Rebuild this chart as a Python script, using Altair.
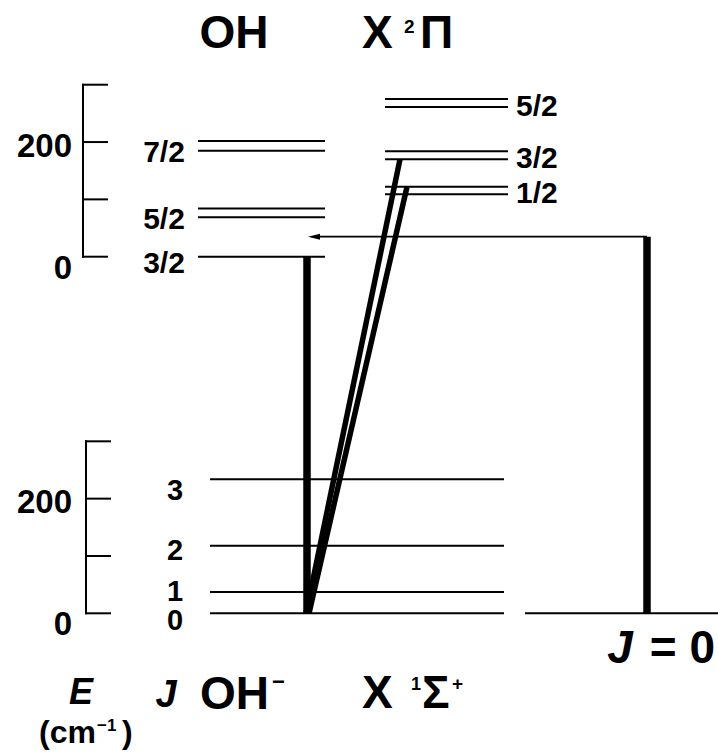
import altair as alt
import pandas as pd

# ---------------- data (energies in cm^-1) ----------------
# OH- X 1Σ+ rotational levels
anion_J = ["0", "1", "2", "3"]
anion_E = [0, 37, 118, 234]

# OH X 2Π3/2 levels, Λ-doublet components (relative to J = 3/2)
pi32_J = ["3/2", "5/2", "5/2", "7/2", "7/2"]
pi32_E = [0, 69, 84, 185, 202]

# OH X 2Π1/2 levels, Λ-doublet components
pi12_J = ["1/2", "1/2", "3/2", "3/2", "5/2", "5/2"]
pi12_E = [109, 122, 170, 184, 261, 275]

# photodetachment transitions from OH- J = 0 (upper-state energies)
trans_upper = [0, 170, 122]          # -> 2Π3/2 J=3/2, 2Π1/2 J=3/2, 2Π1/2 J=1/2
photon_E = 35                        # excess photon energy marker

energy_ticks = [0, 100, 200, 300]
energy_labels = [0, 200]

# ---------------- layout ----------------
W, H = 718, 753
PX = 0.5733                  # pixels per cm^-1
Y0 = 613.3                   # pixel row of anion E = 0
BREAK = 622                  # drawn offset of the neutral block (axis break)
FONT = "Liberation Sans"

X = alt.Scale(domain=[0, W], nice=False, zero=False)
Y = alt.Scale(domain=[-(H - Y0) / PX, Y0 / PX], nice=False, zero=False)


def xq(f):
    return alt.X(f"{f}:Q", scale=X, axis=None)


def yq(f):
    return alt.Y(f"{f}:Q", scale=Y, axis=None)


layers = []

# ---- energy level lines ----
lv = []
for e in anion_E:
    lv.append(dict(x=210, x2=504, y=e))
lv.append(dict(x=525, x2=718, y=anion_E[0]))
for e in pi32_E:
    lv.append(dict(x=198, x2=325, y=e + BREAK))
for e in pi12_E:
    lv.append(dict(x=385, x2=508, y=e + BREAK))
layers.append(
    alt.Chart(pd.DataFrame(lv)).mark_rule(color="black", strokeWidth=2)
    .encode(x=xq("x"), x2="x2:Q", y=yq("y"))
)

# ---- energy brackets (axes) ----
br = []
for bx, off in [(83, BREAK), (86, 0)]:
    br.append(dict(x=bx, x2=bx, y=energy_ticks[0] + off, y2=energy_ticks[-1] + off))
    for t in energy_ticks:
        br.append(dict(x=bx, x2=bx + 24, y=t + off, y2=t + off))
layers.append(
    alt.Chart(pd.DataFrame(br)).mark_rule(color="black", strokeWidth=2, strokeCap="square")
    .encode(x=xq("x"), x2="x2:Q", y=yq("y"), y2="y2:Q")
)

# ---- transitions ----
# vertical to 2Π3/2 J=3/2
layers.append(
    alt.Chart(pd.DataFrame([dict(x=307, y=anion_E[0], y2=trans_upper[0] + BREAK)]))
    .mark_rule(color="black", strokeWidth=7.5)
    .encode(x=xq("x"), y=yq("y"), y2="y2:Q")
)
# slanted to the 2Π1/2 levels
layers.append(
    alt.Chart(pd.DataFrame([
        dict(x=306, y=anion_E[0], x2=400, y2=trans_upper[1] + BREAK),
        dict(x=309, y=anion_E[0], x2=407, y2=trans_upper[2] + BREAK),
    ]))
    .mark_rule(color="black", strokeWidth=5.5)
    .encode(x=xq("x"), y=yq("y"), x2="x2:Q", y2="y2:Q")
)
# photon bar on the right and its arrow
layers.append(
    alt.Chart(pd.DataFrame([dict(x=647, y=anion_E[0], y2=photon_E + BREAK)]))
    .mark_rule(color="black", strokeWidth=7.5)
    .encode(x=xq("x"), y=yq("y"), y2="y2:Q")
)
layers.append(
    alt.Chart(pd.DataFrame([dict(x=647, x2=316, y=photon_E + BREAK)]))
    .mark_rule(color="black", strokeWidth=1.8)
    .encode(x=xq("x"), x2="x2:Q", y=yq("y"))
)
layers.append(
    alt.Chart(pd.DataFrame([dict(x=314, y=photon_E + BREAK)]))
    .mark_point(shape="M-1,0L1,-0.5L1,0.5Z", size=144, filled=True,
                color="black", opacity=1, strokeWidth=0)
    .encode(x=xq("x"), y=yq("y"))
)


# ---- J labels ----
def level_text(df, dy, align, size=30):
    return (
        alt.Chart(df).mark_text(font=FONT, fontWeight="bold", fontSize=size,
                                align=align, baseline="alphabetic", dy=dy, color="black")
        .encode(x=xq("x"), y=yq("y"), text="t:N")
    )


p32 = pd.DataFrame(dict(t=pi32_J, y=pi32_E)).groupby("t", sort=False).mean().reset_index()
p32["y"] += BREAK
p32["x"] = 164
layers.append(level_text(p32, 16.5, "center"))

p12 = pd.DataFrame(dict(t=pi12_J, y=pi12_E)).groupby("t", sort=False).mean().reset_index()
p12["y"] += BREAK
p12["x"] = 516
layers.append(level_text(p12, 13, "left"))

anion_nudge = [17, 9, 14, 21]
for j, e, d in zip(anion_J, anion_E, anion_nudge):
    layers.append(level_text(pd.DataFrame([dict(t=j, y=e, x=175)]), d, "center", size=29))

# ---- energy axis numbers ----
for off in [BREAK, 0]:
    for v in energy_labels:
        layers.append(level_text(pd.DataFrame([dict(t=str(v), y=v + off, x=72)]),
                                 22 if v == 0 else 14.5, "right", size=33))


# ---- headings and axis titles ----
def label(text, x, y, size, align="left", italic=False):
    return (
        alt.Chart(pd.DataFrame({"t": [text]})).mark_text(
            font=FONT, fontWeight="bold", fontSize=size, align=align,
            baseline="alphabetic", fontStyle="italic" if italic else "normal", color="black")
        .encode(x=alt.value(x), y=alt.value(y), text="t:N")
    )


layers += [
    label("OH", 234, 48, 46, "center"),
    label("X", 362, 48, 46),
    label("2", 404, 33, 19),
    label("Π", 420, 48, 46),
    label("OH", 200, 709, 46),
    label("\u2212", 272, 689, 22),
    label("X", 362, 708, 46),
    label("1", 411, 690, 18),
    label("Σ", 422, 708, 46),
    label("+", 452, 690, 19),
    label("J", 620, 663, 46, "center", italic=True),
    label("= 0", 715, 663, 46, "right"),
    label("E", 81, 704, 36, "center", italic=True),
    label("J", 166, 707, 38, "center", italic=True),
    label("(cm", 96, 743, 32, "right"),
    label("\u22121", 97, 731, 17),
    label(")", 122, 743, 32),
]

chart = (
    alt.layer(*layers)
    .properties(width=W, height=H, padding=0, autosize="none", background="white")
    .configure_view(stroke=None)
)

chart.save("out.html", embed_options={"renderer": "svg", "actions": False})
